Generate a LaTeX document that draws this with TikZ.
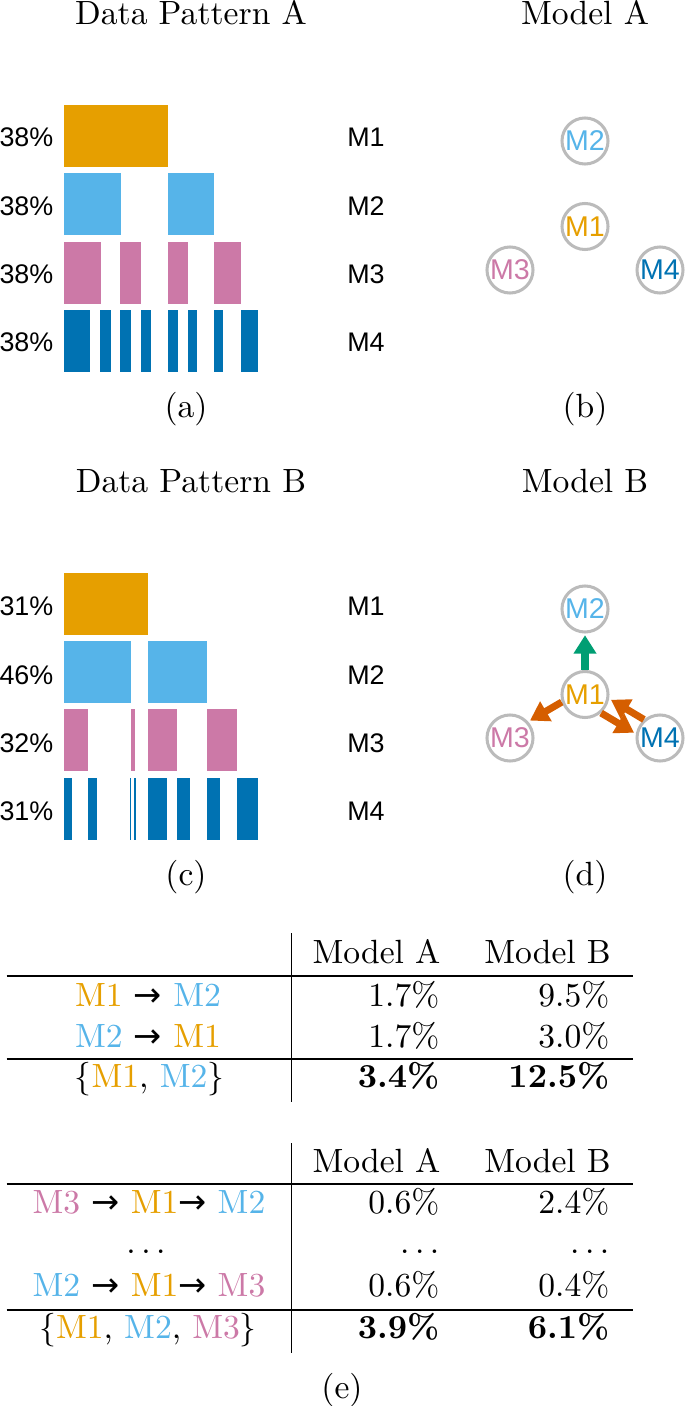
\documentclass[tikz,border=0pt]{standalone}
\usepackage{fontspec}
\newfontfamily\sansfont{Liberation Sans}
\newfontfamily\pijlfont{DejaVu Sans}
\usetikzlibrary{arrows.meta}
\definecolor{colM1}{HTML}{E69F00}
\definecolor{colM2}{HTML}{56B4E9}
\definecolor{colM3}{HTML}{CC79A7}
\definecolor{colM4}{HTML}{0072B2}
\definecolor{colUp}{HTML}{009E73}
\definecolor{colSide}{HTML}{D55E00}
\definecolor{colRing}{HTML}{BBBBBB}
\newcommand{\mname}[1]{\textcolor{colM#1}{M#1}}
\newcommand{\pijl}{{\pijlfont →}}
\NewDocumentCommand{\patternrow}{m m m}{ % kleur, bovenkant, intervallen a/b
    \foreach \a/\b in {#3}
        \fill[#1] (\a,#2) rectangle (\b,#2+62);
}
\begin{document}
\begin{tikzpicture}[x=0.2976pt, y=-0.2976pt,
    modelring/.style={circle, draw=colRing, line width=0.9pt, minimum size=13.7pt, inner sep=0pt, font=\sansfont\fontsize{8.5}{10}\selectfont},
    sanslabel/.style={font=\sansfont\fontsize{8}{10}\selectfont, inner sep=0pt, anchor=base},
    kop/.style={anchor=base, inner sep=0pt},
    cel/.style={anchor=base east, inner sep=0pt},
    regel/.style={line width=0.6pt},
    flowarrow/.style={line width=2.1pt, -{Triangle[length=5.5pt,width=6.5pt]}, shorten >=0.6pt}]
    \useasboundingbox (0,0) rectangle (685,1406);

    % (a) data pattern A
    \node[kop] (titleA) at (191,25) {Data Pattern A};
    \patternrow{colM1}{105}{64/168}
    \patternrow{colM2}{173}{64/121,168/214}
    \patternrow{colM3}{242}{64/101,120/141,168/188,214/241}
    \patternrow{colM4}{310}{64/90,100/111,120/131,141/151,168/178,188/197,214/223,241/258}
    \foreach \y/\p/\m in {147/38/1,216/38/2,284/38/3,352/38/4}{
        \node[sanslabel, anchor=base east] (pa\m) at (54,\y) {\p\%};
        \node[sanslabel] (la\m) at (366,\y) {M\m};
    }
    \node (capa) at (186,409) {(a)};

    % (b) model A
    \node[kop] (titleMA) at (585,25) {Model A};
    \node[modelring] (A2) at (585,141) {\textcolor{colM2}{M2}};
    \node[modelring] (A1) at (585,226.5) {\textcolor{colM1}{M1}};
    \node[modelring] (A3) at (510,270) {\textcolor{colM3}{M3}};
    \node[modelring] (A4) at (660,270) {\textcolor{colM4}{M4}};
    \node (capb) at (585,409) {(b)};

    % (c) data pattern B
    \node[kop] (titleB) at (191,493) {Data Pattern B};
    \patternrow{colM1}{573}{64/148}
    \patternrow{colM2}{641}{64/131,148/207}
    \patternrow{colM3}{709}{64/88.3,130.7/134.7,148/176.7,206.7/237}
    \patternrow{colM4}{778}{64/72,88.3/96.7,130.3/131.1,134.4/135.9,148/167,176.7/190,206.7/219.7,237/258}
    \foreach \y/\p/\m in {615/31/1,684/46/2,752/32/3,820/31/4}{
        \node[sanslabel, anchor=base east] (pc\m) at (54,\y) {\p\%};
        \node[sanslabel] (lc\m) at (366,\y) {M\m};
    }
    \node (capc) at (186,877) {(c)};

    % (d) model B
    \node[kop] (titleMB) at (585,493) {Model B};
    \node[modelring] (B2) at (585,609) {\textcolor{colM2}{M2}};
    \node[modelring] (B1) at (585,694.5) {\textcolor{colM1}{M1}};
    \node[modelring] (B3) at (510,738) {\textcolor{colM3}{M3}};
    \node[modelring] (B4) at (660,738) {\textcolor{colM4}{M4}};
    \draw[flowarrow, colUp, shorten >=0.5pt] (B1) -- (B2);
    \draw[flowarrow, colSide] (B1.198) -- (B3.42);
    \draw[flowarrow, colSide] (B1.-49) -- (B4.170);
    \draw[flowarrow, colSide] (B4.131) -- (B1.-10);
    \node (capd) at (585,877) {(d)};

    % (e) tabel met paren
    \draw[line width=0.4pt] (291.7,933) -- (291.7,1102);
    \draw[regel] (6.7,975.7) -- (633,975.7);
    \draw[regel] (6.7,1059) -- (633,1059);
    \node[kop] (h1a) at (376.5,963) {Model A};
    \node[kop] (h1b) at (547.5,963) {Model B};
    \node[kop] (r11) at (148,1006) {\mname{1} \pijl{} \mname{2}};
    \node[cel] (r11a) at (440,1006) {1.7\%};
    \node[cel] (r11b) at (610,1006) {9.5\%};
    \node[kop] (r12) at (148,1047) {\mname{2} \pijl{} \mname{1}};
    \node[cel] (r12a) at (440,1047) {1.7\%};
    \node[cel] (r12b) at (610,1047) {3.0\%};
    \node[kop] (s1) at (149.5,1087) {$\{$\mname{1}, \mname{2}$\}$};
    \node[cel] (s1a) at (440,1087) {\textbf{3.4\%}};
    \node[cel] (s1b) at (610,1087) {\textbf{12.5\%}};

    % (e) tabel met drietallen
    \draw[line width=0.4pt] (291.7,1143) -- (291.7,1353);
    \draw[regel] (6.7,1184) -- (633,1184);
    \draw[regel] (6.7,1310) -- (633,1310);
    \node[kop] (h2a) at (376.5,1172) {Model A};
    \node[kop] (h2b) at (547.5,1172) {Model B};
    \node[kop] (r21) at (149,1213) {\mname{3} \pijl{} \mname{1}\pijl{} \mname{2}};
    \node[cel] (r21a) at (440,1213) {0.6\%};
    \node[cel] (r21b) at (610,1213) {2.4\%};
    \node[kop] (r22) at (146,1253) {$\dots$};
    \node[cel] (r22a) at (440,1253) {$\dots$};
    \node[cel] (r22b) at (610,1253) {$\dots$};
    \node[kop] (r23) at (149,1296) {\mname{2} \pijl{} \mname{1}\pijl{} \mname{3}};
    \node[cel] (r23a) at (440,1296) {0.6\%};
    \node[cel] (r23b) at (610,1296) {0.4\%};
    \node[kop] (s2) at (148,1338) {$\{$\mname{1}, \mname{2}, \mname{3}$\}$};
    \node[cel] (s2a) at (440,1338) {\textbf{3.9\%}};
    \node[cel] (s2b) at (610,1338) {\textbf{6.1\%}};
    \node (cape) at (342,1390) {(e)};
\end{tikzpicture}
\end{document}
